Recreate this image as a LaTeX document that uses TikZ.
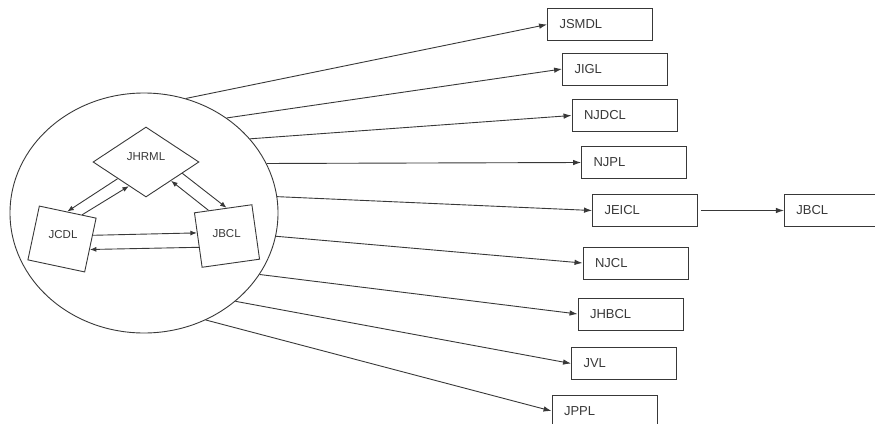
\documentclass[tikz,border=0pt]{standalone}
\usepackage{fontspec}
\setmainfont{Liberation Sans}
\usetikzlibrary{shapes.geometric,arrows.meta,calc,positioning}

\begin{document}
\begin{tikzpicture}[x=1pt, y=-1pt, line width=0.9pt, color=black!78,
        -{Latex[length=8pt,width=5.5pt]},
        grp/.style = {draw, ellipse, minimum width=268pt, minimum height=240pt},
        hub/.style = {draw, diamond, minimum width=106pt, minimum height=70pt, inner sep=0pt, text depth=10pt, font=\fontsize{11.5}{13}\selectfont},
        co/.style = {draw, rectangle, minimum width=58pt, minimum height=55pt, inner sep=0pt, text depth=10pt, font=\fontsize{11.5}{13}\selectfont},
        main/.style = {draw, rectangle, minimum height=32pt, text width=81pt, inner xsep=12pt, align=left, font=\fontsize{13}{15}\selectfont},
        small/.style = {-{Latex[length=6.5pt,width=5pt]}}]
        \useasboundingbox (0,0) rectangle (875,423);
        % group
        \node[grp] (grp) at (144,213) {};
        \node[hub] (jhrml) at (146,162) {JHRML};
        \node[co, rotate=-12] (jcdl) at (62,239) {\rotatebox{12}{JCDL}};
        \node[co, rotate=8] (jbcl) at (227,236) {\rotatebox{-8}{JBCL}};
        \draw[small] ($(jhrml.west)!.47!(jhrml.south)$) -- ($(jcdl.north west)!.49!(jcdl.north east)$);
        \draw[small] ($(jcdl.north west)!.75!(jcdl.north east)$) -- ($(jhrml.west)!.68!(jhrml.south)$);
        \draw[small] ($(jhrml.south)!.68!(jhrml.east)$) -- ($(jbcl.north west)!.56!(jbcl.north east)$);
        \draw[small] ($(jbcl.north west)!.25!(jbcl.north east)$) -- ($(jhrml.south)!.47!(jhrml.east)$);
        \draw[small] ($(jcdl.north east)!.32!(jcdl.south east)$) -- ($(jbcl.north west)!.37!(jbcl.south west)$);
        \draw[small] ($(jbcl.north west)!.63!(jbcl.south west)$) -- ($(jcdl.north east)!.58!(jcdl.south east)$);
        % companies
        \node[main] (jsmdl) at (600,24.5) {JSMDL};
        \node[main] (jigl) at (615,69) {JIGL};
        \node[main] (njdcl) at (624.5,115.5) {NJDCL};
        \node[main] (njpl) at (634,162.5) {NJPL};
        \node[main] (jeicl) at (645,210.5) {JEICL};
        \node[main] (jbcl2) [right=86pt of jeicl] {JBCL};
        \node[main] (njcl) at (635.5,263) {NJCL};
        \node[main] (jhbcl) at (630.5,314) {JHBCL};
        \node[main] (jvl) at (624,363.5) {JVL};
        \node[main] (jppl) at (604.5,411) {JPPL};
        \draw (grp.70.5) -- (jsmdl.west);
        \draw (grp.49.2) -- (jigl.west);
        \draw (grp.35.3) -- (njdcl.west);
        \draw (grp.22.5) -- (njpl.west);
        \draw (grp.7.2) -- (jeicl.west);
        \draw (grp.-10.2) -- (njcl.west);
        \draw (grp.-28.1) -- (jhbcl.west);
        \draw (grp.-44.1) -- (jvl.west);
        \draw (grp.-60.8) -- (jppl.west);
        \draw ([xshift=3pt]jeicl.east) -- (jbcl2.west);
\end{tikzpicture}
\end{document}
